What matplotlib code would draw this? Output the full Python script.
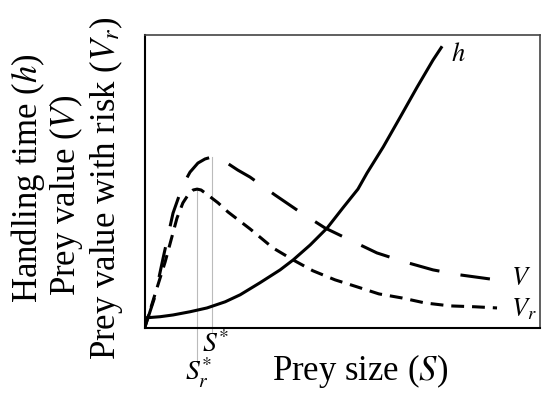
import numpy as np
import matplotlib
matplotlib.use("Agg")
import matplotlib.pyplot as plt

plt.rcParams["font.family"] = ["Liberation Serif", "DejaVu Serif"]
plt.rcParams["mathtext.fontset"] = "stix"

# prey size axis (arbitrary units, 0-100)
h_x = [0, 3.8, 7.1, 11.4, 15.7, 20.3, 24.1, 29.1, 34.2, 37.5, 41.8, 46.1, 50.1, 53.9, 56.2,
       60.3, 64.6, 68.9, 72.9, 75.2]
h_y = [3.4, 3.8, 4.4, 5.5, 6.8, 8.9, 11.3, 15.4, 19.8, 23.2, 28.3, 34.1, 41.0, 47.4, 52.9,
       61.8, 72.0, 82.3, 91.5, 96.2]

V_x = [0, 2.5, 4.6, 7.1, 9.6, 11.4, 13.4, 15.2, 17.0, 19.0, 20.8, 23.5, 26.6, 32.9, 39.2,
       45.6, 51.9, 58.7, 65.8, 72.9, 79.7, 87.3]
V_y = [0.3, 10.6, 23.9, 39.2, 48.8, 53.2, 56.3, 57.7, 58.4, 57.7, 56.3, 53.9, 51.5, 45.4, 39.6,
       34.1, 30.0, 25.6, 22.5, 19.8, 18.1, 16.7]

Vr_x = [0, 2.5, 5.1, 8.1, 9.6, 10.9, 12.2, 13.2, 14.2, 15.9, 18.5, 21.0, 26.6, 32.4, 37.5,
        42.5, 48.1, 53.7, 59.2, 65.1, 70.9, 77.2, 83.5, 89.1]
Vr_y = [0.3, 11.3, 22.5, 37.5, 42.7, 45.4, 47.1, 47.4, 47.1, 45.4, 42.7, 39.6, 33.8, 27.3, 23.2,
        19.5, 16.4, 14.0, 11.6, 10.2, 8.5, 7.5, 7.2, 6.8]

S_star = 17.0
Sr_star = 13.2
V_peak = 58.4
Vr_peak = 47.4

fig = plt.figure(figsize=(5.45, 3.95), dpi=100)
ax = fig.add_axes([0.266, 0.170, 0.725, 0.741])

ax.plot(h_x, h_y, color="black", lw=2.2, solid_capstyle="butt", solid_joinstyle="round")
ax.plot(V_x, V_y, color="black", lw=2.2, dashes=(10, 7))
ax.plot(Vr_x, Vr_y, color="black", lw=2.2, dashes=(4.2, 2.6))

# optimum prey sizes
ax.plot([S_star, S_star], [-1.7, V_peak], color="#bbbbbb", lw=0.8, clip_on=False, zorder=0)
ax.plot([Sr_star, Sr_star], [-11.6, Vr_peak], color="#bbbbbb", lw=0.8, clip_on=False, zorder=0)

ax.text(79.2, 93.5, "$h$", fontsize=19, ha="center", va="center")
ax.text(95.2, 16.7, "$V$", fontsize=19, ha="center", va="center")
ax.text(95.8, 6.5, "$V_r$", fontsize=19, ha="center", va="center")

ax.set_xlim(0, 100)
ax.set_ylim(0, 100)
ax.set_xticks([])
ax.set_yticks([])
for side in ["left", "bottom"]:
    ax.spines[side].set_linewidth(1.5)
    ax.spines[side].set_color("black")
for side in ["top", "right"]:
    ax.spines[side].set_linewidth(1.2)
    ax.spines[side].set_color("#444444")

fig.text(0.396, 0.127, "$S^{*}$", fontsize=20, ha="center", va="center")
fig.text(0.365, 0.056, "$S_r^{*}$", fontsize=20, ha="center", va="center")
fig.text(0.66, 0.061, "Prey size ($S$)", fontsize=25, ha="center", va="center")

fig.text(0.051, 0.549, "Handling time ($h$)", fontsize=25, rotation=90, ha="center", va="center")
fig.text(0.121, 0.504, "Prey value ($V$)", fontsize=25, rotation=90, ha="center", va="center")
fig.text(0.195, 0.524, "Prey value with risk ($V_r$)", fontsize=25, rotation=90, ha="center", va="center")

fig.savefig("out.png", dpi=100)
